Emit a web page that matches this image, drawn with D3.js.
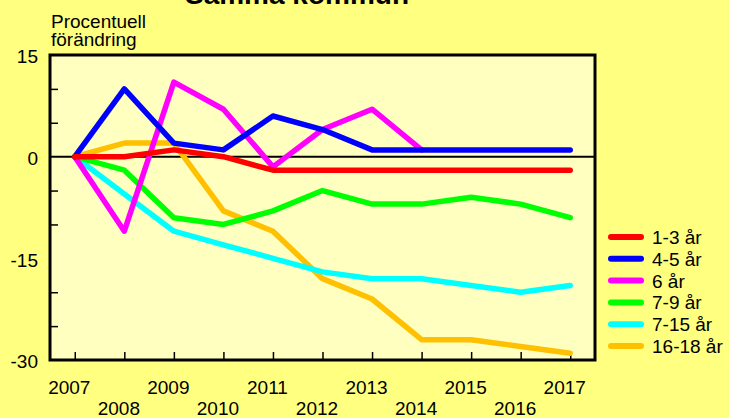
<!DOCTYPE html>
<html>
<head>
<meta charset="utf-8">
<script src="https://cdn.jsdelivr.net/npm/d3@7"></script>
<style>
  body { margin: 0; background: #ffff80; }
  text { font-family: "Liberation Sans", Arial, sans-serif; fill: #000; }
</style>
</head>
<body>
<div id="chart"></div>
<script>
// Data
var years = [2007, 2008, 2009, 2010, 2011, 2012, 2013, 2014, 2015, 2016, 2017];
var seriesNames = ["1-3 år", "4-5 år", "6 år", "7-9 år", "7-15 år", "16-18 år"];
var seriesColors = ["#ff0000", "#0000ff", "#ff00ff", "#00ff00", "#00ffff", "#ffc000"];
var age1to3 = [0, 0, 1, 0, -2, -2, -2, -2, -2, -2, -2];
var age4to5 = [0, 10, 2, 1, 6, 4, 1, 1, 1, 1, 1];
var age6 = [0, -11, 11, 7, -1.5, 4, 7, 1, null, null, null];
var age7to9 = [0, -2, -9, -10, -8, -5, -7, -7, -6, -7, -9];
var age7to15 = [0, -5.5, -11, -13, -15, -17, -18, -18, -19, -20, -19];
var age16to18 = [0, 2, 2, -8, -11, -18, -21, -27, -27, -28, -29];
var yLabelTicks = [15, 0, -15, -30];
var yMinorTicks = [10, 5, -5, -10, -20, -25];

var allSeries = [age1to3, age4to5, age6, age7to9, age7to15, age16to18];

var W = 729, H = 418;
var plot = {left: 50, top: 55, right: 595, bottom: 360};

var svg = d3.select("#chart").append("svg")
    .attr("width", W)
    .attr("height", H);

svg.append("rect").attr("width", W).attr("height", H).attr("fill", "#ffff80");

var x = d3.scaleLinear().domain([2006.5, 2017.5]).range([plot.left, plot.right]);
var y = d3.scaleLinear().domain([-30, 15]).range([plot.bottom, plot.top]);

// title (cut off at top, as in the original)
svg.append("text")
    .attr("x", 297).attr("y", 4)
    .attr("text-anchor", "middle")
    .style("font-size", "28px").style("font-weight", "bold")
    .text("Samma kommun");

svg.append("text").attr("x", 51).attr("y", 27.5).style("font-size", "19px").text("Procentuell");
svg.append("text").attr("x", 51).attr("y", 46).style("font-size", "19px").text("förändring");

// plot background
svg.append("rect")
    .attr("x", plot.left).attr("y", plot.top)
    .attr("width", plot.right - plot.left).attr("height", plot.bottom - plot.top)
    .attr("fill", "#ffffc0");

// inner ticks
var yMinor = svg.append("g")
    .attr("transform", "translate(" + plot.left + ",0)")
    .call(d3.axisLeft(y).tickValues(yMinorTicks).tickSizeInner(-8).tickSizeOuter(0).tickFormat(""));
yMinor.select(".domain").remove();
yMinor.selectAll("line").attr("stroke-width", 1.5);

var yLab = svg.append("g")
    .attr("transform", "translate(" + plot.left + ",0)")
    .call(d3.axisLeft(y).tickValues(yLabelTicks).tickSize(0).tickPadding(12).tickFormat(d => String(d)));
yLab.select(".domain").remove();
yLab.selectAll("text")
    .style("font-size", "19px")
    .attr("font-family", null)
    .attr("dy", "0.42em");

var xAx = svg.append("g")
    .attr("transform", "translate(0," + plot.bottom + ")")
    .call(d3.axisBottom(x).tickValues(years).tickSizeInner(-8).tickSizeOuter(0).tickFormat(d => String(d)));
xAx.select(".domain").remove();
xAx.selectAll("line").attr("stroke-width", 1.5);
xAx.selectAll("text")
    .style("font-size", "19px")
    .attr("font-family", null)
    .attr("dy", null)
    .attr("x", -6)
    .attr("y", d => d % 2 === 1 ? 33.5 : 55);

// zero line
svg.append("line")
    .attr("x1", plot.left).attr("x2", plot.right)
    .attr("y1", y(0)).attr("y2", y(0))
    .attr("stroke", "#000").attr("stroke-width", 2);

// lines, drawn last series first
var line = d3.line()
    .defined(d => d != null)
    .x((d, i) => x(years[i]))
    .y(d => y(d));

var order = d3.range(allSeries.length).reverse();
svg.append("g").selectAll("path")
    .data(order)
  .enter().append("path")
    .attr("d", i => line(allSeries[i]))
    .attr("fill", "none")
    .attr("stroke", i => seriesColors[i])
    .attr("stroke-width", 5.5)
    .attr("stroke-linejoin", "round")
    .attr("stroke-linecap", "round");

// frame
svg.append("rect")
    .attr("x", plot.left).attr("y", plot.top)
    .attr("width", plot.right - plot.left).attr("height", plot.bottom - plot.top)
    .attr("fill", "none").attr("stroke", "#000").attr("stroke-width", 3);

// legend
var leg = svg.append("g").selectAll("g")
    .data(seriesNames)
  .enter().append("g")
    .attr("transform", (d, i) => "translate(0," + (237 + i * 21.8) + ")");

leg.append("line")
    .attr("x1", 611).attr("x2", 641)
    .attr("stroke", (d, i) => seriesColors[i])
    .attr("stroke-width", 6)
    .attr("stroke-linecap", "round");

leg.append("text")
    .attr("x", 652).attr("y", 7)
    .style("font-size", "19px")
    .text(d => d);
</script>
</body>
</html>
